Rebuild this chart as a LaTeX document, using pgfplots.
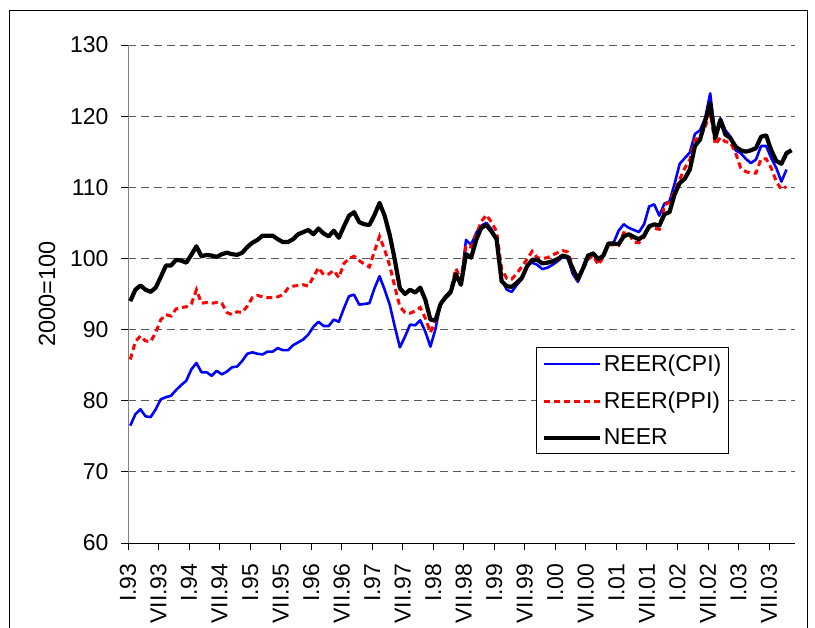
\documentclass[border=0pt]{standalone}
\usepackage{fontspec}
\setmainfont{Liberation Sans}
\usepackage{pgfplots}
\pgfplotsset{compat=1.18}
\usepackage{pgfplotstable}

\pgfplotstableread{
m cpi ppi neer
0 76.5 85.8 94.0
1 78.1 88.3 95.6
2 78.8 89.1 96.2
3 77.8 88.4 95.6
4 77.7 88.3 95.3
5 78.8 89.6 95.9
6 80.2 91.4 97.4
7 80.5 92.1 99.0
8 80.7 91.9 99.0
9 81.5 92.9 99.8
10 82.2 93.1 99.7
11 82.8 93.2 99.4
12 84.4 93.6 100.5
13 85.3 95.6 101.7
14 84.0 93.7 100.3
15 84.0 93.8 100.5
16 83.5 93.7 100.4
17 84.2 93.8 100.2
18 83.7 93.7 100.6
19 84.1 92.4 100.8
20 84.7 92.1 100.6
21 84.8 92.5 100.5
22 85.6 92.4 100.8
23 86.6 93.3 101.6
24 86.8 94.5 102.2
25 86.6 94.8 102.6
26 86.5 94.6 103.2
27 86.9 94.5 103.2
28 86.9 94.5 103.2
29 87.4 94.6 102.7
30 87.1 94.9 102.3
31 87.1 95.8 102.3
32 87.8 96.1 102.7
33 88.2 96.2 103.4
34 88.6 96.3 103.7
35 89.3 96.1 104.0
36 90.4 97.4 103.4
37 91.1 98.7 104.2
38 90.5 97.7 103.5
39 90.5 97.8 103.1
40 91.4 98.3 103.9
41 91.1 97.3 102.9
42 93.0 99.3 104.5
43 94.7 100.0 106.0
44 94.9 100.3 106.5
45 93.5 99.7 105.1
46 93.6 99.2 104.8
47 93.7 98.8 104.7
48 95.8 101.0 106.1
49 97.5 103.1 107.8
50 95.6 101.2 106.0
51 93.5 99.0 103.3
52 90.4 96.0 99.8
53 87.5 93.2 95.8
54 89.0 92.4 95.0
55 90.7 92.3 95.6
56 90.6 92.6 95.2
57 91.3 93.1 95.9
58 89.7 91.6 94.2
59 87.6 89.6 91.4
60 90.1 91.2 91.3
61 93.7 93.6 93.6
62 94.4 94.6 94.6
63 95.1 95.5 95.3
64 97.8 98.6 97.8
65 96.6 97.0 96.3
66 102.6 101.8 100.6
67 101.9 101.6 100.1
68 103.6 103.3 102.6
69 104.6 105.2 104.3
70 105.0 106.1 104.7
71 104.1 105.1 103.8
72 102.8 103.8 102.7
73 97.0 98.5 96.8
74 95.6 97.2 96.1
75 95.3 97.1 96.0
76 96.3 97.9 96.6
77 97.1 98.9 97.3
78 99.1 99.9 98.9
79 99.4 101.0 99.8
80 99.1 100.1 99.8
81 98.5 100.0 99.3
82 98.7 100.1 99.4
83 99.1 100.5 99.6
84 99.6 100.8 99.9
85 100.2 101.1 100.4
86 100.0 100.9 100.2
87 97.8 98.8 98.5
88 96.7 96.8 97.1
89 98.5 98.5 98.6
90 100.1 99.9 100.4
91 100.8 100.4 100.7
92 99.7 99.1 99.9
93 100.4 100.2 100.4
94 102.1 101.9 102.1
95 102.2 101.9 102.1
96 103.9 101.8 102.0
97 104.8 103.6 103.1
98 104.3 103.5 103.4
99 104.0 102.3 103.0
100 103.7 102.2 102.7
101 104.8 103.0 103.2
102 107.3 104.5 104.5
103 107.6 104.2 104.8
104 106.0 104.1 104.6
105 107.7 107.5 106.2
106 108.0 107.9 106.5
107 110.5 109.5 109.0
108 113.3 111.1 110.6
109 114.1 112.7 111.2
110 114.9 113.9 112.5
111 117.5 116.7 115.8
112 118.0 117.0 116.7
113 119.7 118.5 119.3
114 123.2 120.5 121.8
115 117.1 116.0 116.9
116 119.7 117.0 119.5
117 118.0 116.4 117.4
118 117.1 116.3 116.9
119 115.2 114.8 115.7
120 114.8 112.7 115.2
121 114.0 112.2 115.0
122 113.4 112.0 115.2
123 113.9 112.0 115.5
124 115.8 114.0 117.1
125 115.8 114.0 117.3
126 114.1 112.7 115.2
127 112.7 110.8 113.7
128 110.8 109.7 113.3
129 112.5 110.1 114.8
130 nan nan 115.2
}\data

\begin{document}
\begin{tikzpicture}
\useasboundingbox (-128pt,-85pt) rectangle (687pt,543pt);
\draw[black, line width=0.8pt] (-119pt,-120pt) -- (-119pt,533pt) -- (679pt,533pt) -- (679pt,-120pt);
\begin{axis}[
  at={(0pt,0pt)}, anchor=south west,
  scale only axis, width=667pt, height=498pt,
  xmin=-0.45, xmax=130.67, ymin=60, ymax=130,
  axis x line*=bottom, axis y line*=left,
  x axis line style={black, line width=0.8pt, -},
  y axis line style={black!50, line width=0.8pt, -},
  ytick={60,70,...,130},
  xtick={-0.45,5.55,...,125.55},
  xticklabels={I.93,VII.93,I.94,VII.94,I.95,VII.95,I.96,VII.96,I.97,VII.97,I.98,VII.98,I.99,VII.99,I.00,VII.00,I.01,VII.01,I.02,VII.02,I.03,VII.03},
  tick align=outside, major tick length=7pt,
  tick style={black, line width=0.8pt},
  ymajorgrids, major grid style={black!65, line width=0.9pt, dash pattern=on 8pt off 5pt},
  /pgf/number format/assume math mode=true,
  every tick label/.append style={font=\fontsize{23}{27}\selectfont},
  xticklabel style={rotate=90, anchor=east},
  xticklabel shift=10pt,
  yticklabel style={anchor=east},
  yticklabel shift=9pt,
  ylabel={2000=100},
  ylabel style={at={(axis description cs:-0.1214,0.5)}, rotate=0, anchor=center, font=\fontsize{23.5}{27}\selectfont},
  legend style={at={(axis description cs:0.612,0.179)}, anchor=south west,
    draw=black, line width=0.8pt, fill=white,
    font=\fontsize{23}{27}\selectfont,
    row sep=15pt, inner xsep=5pt, inner ysep=5pt,
    nodes={inner sep=2pt}},
  legend cell align=left,
  legend image code/.code={\draw[#1] (0pt,0pt) -- (56pt,0pt);},
]
\addplot[blue, line width=2.6pt, line join=round] table[x=m, y=cpi] {\data};
\addlegendentry{REER(CPI)}
\addplot[red, line width=3pt, dash pattern=on 6pt off 4pt] table[x=m, y=ppi] {\data};
\addlegendentry{REER(PPI)}
\addplot[black, line width=4.2pt, line join=round] table[x=m, y=neer] {\data};
\addlegendentry{NEER}
\end{axis}
\end{tikzpicture}
\end{document}
